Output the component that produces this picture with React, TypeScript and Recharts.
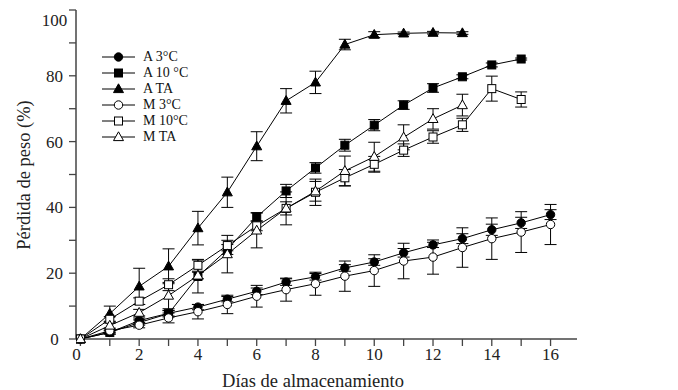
import React from 'react';
import { LineChart, Line, XAxis, YAxis, ErrorBar, Legend, Label } from 'recharts';

// storage days
const days = [0, 1, 2, 3, 4, 5, 6, 7, 8, 9, 10, 11, 12, 13, 14, 15, 16];

// weight loss (%) and error, per treatment
const a3 = [0, 2.0, 5.6, 7.8, 9.7, 12.1, 14.5, 17.3, 18.9, 21.6, 23.4, 26.2, 28.6, 30.5, 33.2, 35.3, 37.8];
const a3Err = [0, 0.5, 0.8, 0.8, 0.8, 0.8, 1.0, 1.0, 1.0, 1.0, 1.0, 1.3, 0.8, 1.5, 1.7, 1.7, 1.5];
const a10 = [0, 2.0, 5.0, 7.7, 19.0, 27.2, 37.1, 45.0, 52.0, 58.9, 65.0, 71.1, 76.3, 79.7, 83.3, 85.1, null];
const a10Err = [0, 0.5, 0.8, 1.0, 5.0, 1.5, 1.3, 2.0, 1.6, 1.8, 1.7, 1.3, 1.3, 0.6, 0.6, 0.3, null];
const aTa = [0, 7.7, 16.0, 22.1, 33.7, 44.6, 58.6, 72.4, 78.0, 89.5, 92.5, 92.9, 93.1, 93.0, null, null, null];
const aTaErr = [0, 2.3, 5.5, 5.3, 5.1, 4.6, 4.4, 3.7, 3.4, 1.6, 0.9, 0.4, 0.4, 0.4, null, null, null];
const m3 = [0, 2.5, 4.2, 6.4, 8.3, 10.5, 13.0, 15.0, 16.8, 19.1, 20.8, 23.7, 24.9, 27.8, 30.5, 32.5, 34.8];
const m3Err = [0, 0.5, 0.8, 1.5, 2.2, 2.8, 3.3, 3.5, 3.5, 4.6, 4.8, 5.4, 5.2, 6.0, 6.3, 6.2, 6.1];
const m10 = [0, 6.0, 11.5, 16.5, 22.4, 28.4, 34.4, 39.7, 44.6, 49.0, 53.1, 57.4, 61.4, 65.1, 76.1, 72.8, null];
const m10Err = [0, 0.8, 1.0, 1.8, 1.8, 1.6, 1.5, 2.0, 4.0, 2.5, 2.4, 1.9, 1.9, 2.0, 3.8, 2.3, null];
const mTa = [0, 4.1, 8.0, 13.2, 19.3, 25.8, 33.0, 39.7, 44.9, 51.1, 55.4, 61.3, 66.9, 71.1, null, null, null];
const mTaErr = [0, 0.8, 1.0, 4.0, 1.0, 5.7, 5.3, 5.0, 3.0, 4.5, 4.4, 3.8, 3.1, 3.3, null, null, null];

const xTicks = days;
const yTicks = [0, 10, 20, 30, 40, 50, 60, 70, 80, 90, 100];

const series = [
  { key: 'a3', name: 'A 3°C', shape: 'circle', filled: true, values: a3, errors: a3Err },
  { key: 'a10', name: 'A 10 °C', shape: 'square', filled: true, values: a10, errors: a10Err },
  { key: 'aTa', name: 'A TA', shape: 'triangle', filled: true, values: aTa, errors: aTaErr },
  { key: 'm3', name: 'M 3°C', shape: 'circle', filled: false, values: m3, errors: m3Err },
  { key: 'm10', name: 'M 10°C', shape: 'square', filled: false, values: m10, errors: m10Err },
  { key: 'mTa', name: 'M TA', shape: 'triangle', filled: false, values: mTa, errors: mTaErr },
];

const data = days.map((day, i) => {
  const row: Record<string, number | null> = { day };
  series.forEach((s) => {
    row[s.key] = s.values[i];
    row[s.key + 'Err'] = s.errors[i];
  });
  return row;
});

const FONT = '"Liberation Serif", "Times New Roman", serif';

function Marker({ cx, cy, shape, filled }: { cx: number; cy: number; shape: string; filled: boolean }) {
  const fill = filled ? '#000' : '#fff';
  if (shape === 'circle') {
    return <circle cx={cx} cy={cy} r={4.2} fill={fill} stroke="#000" strokeWidth={1} />;
  }
  if (shape === 'square') {
    return <rect x={cx - 4} y={cy - 4} width={8} height={8} fill={fill} stroke="#000" strokeWidth={1} />;
  }
  return (
    <polygon
      points={`${cx},${cy - 5.2} ${cx + 5},${cy + 3.6} ${cx - 5},${cy + 3.6}`}
      fill={fill}
      stroke="#000"
      strokeWidth={1}
    />
  );
}

function renderXTick(props: any) {
  const { x, y, payload } = props;
  if (payload.value % 2 !== 0) return <g />;
  // the zero label sits at the start of the axis in the original
  const tx = payload.value === 0 ? x - 4 : x;
  return (
    <text x={tx} y={y + 12} textAnchor="middle" fontSize={17} fontFamily={FONT} fill="#222">
      {payload.value}
    </text>
  );
}

function renderYTick(props: any) {
  const { x, y, payload } = props;
  if (payload.value % 20 !== 0) return <g />;
  const ty = payload.value === 100 ? y + 10 : y;
  return (
    <text x={x - 12.5} y={ty + 6} textAnchor="middle" fontSize={17} fontFamily={FONT} fill="#222">
      {payload.value}
    </text>
  );
}

function renderLegend() {
  return (
    <div style={{ fontFamily: FONT, fontSize: 14, color: '#111' }}>
      {series.map((s) => (
        <div key={s.key} style={{ display: 'flex', alignItems: 'center', height: 16 }}>
          <svg width={41} height={16}>
            <line x1={0} y1={8} x2={33} y2={8} stroke="#000" strokeWidth={1} />
            <Marker cx={16.5} cy={8} shape={s.shape} filled={s.filled} />
          </svg>
          <span style={{ lineHeight: '16px' }}>{s.name}</span>
        </div>
      ))}
    </div>
  );
}

export default function App() {
  return (
    <div style={{ position: 'absolute', left: 0, top: 0, width: 678, height: 390, background: '#fff' }}>
      <LineChart width={678} height={390} data={data} margin={{ top: 10, right: 101, left: 0, bottom: 0 }}>
        <XAxis
          dataKey="day"
          type="number"
          domain={[-0.15, 16.9]}
          ticks={xTicks}
          interval={0}
          allowDataOverflow
          height={51}
          tickSize={7}
          tick={renderXTick}
          axisLine={{ stroke: '#444', strokeWidth: 1.5 }}
          tickLine={{ stroke: '#444', strokeWidth: 1.3 }}
        >
          <Label
            content={() => (
              <text x={313} y={387} textAnchor="middle" fontSize={18.5} fontFamily={FONT} fill="#222">
                Días de almacenamiento
              </text>
            )}
          />
        </XAxis>
        <YAxis
          type="number"
          domain={[0, 100]}
          ticks={yTicks}
          interval={0}
          width={76}
          tickSize={7}
          tick={renderYTick}
          axisLine={{ stroke: '#444', strokeWidth: 1.5 }}
          tickLine={{ stroke: '#444', strokeWidth: 1.3 }}
        >
          <Label
            content={() => (
              <text
                x={30}
                y={175}
                transform="rotate(-90 30 175)"
                textAnchor="middle"
                fontSize={18.5}
                fontFamily={FONT}
                fill="#222"
              >
                Pérdida de peso (%)
              </text>
            )}
          />
        </YAxis>
        <Legend
          layout="vertical"
          align="center"
          verticalAlign="middle"
          content={renderLegend}
          wrapperStyle={{ left: 102, top: 49, width: 130 }}
        />
        {series.map((s) => (
          <Line
            key={s.key}
            dataKey={s.key}
            name={s.name}
            stroke="#000"
            strokeWidth={1}
            isAnimationActive={false}
            dot={(p: any) =>
              p.cx == null || p.cy == null || p.value == null ? (
                <g key={p.index} />
              ) : (
                <Marker key={p.index} cx={p.cx} cy={p.cy} shape={s.shape} filled={s.filled} />
              )
            }
            activeDot={false}
          >
            <ErrorBar
              dataKey={s.key + 'Err'}
              width={6}
              stroke="#000"
              strokeWidth={1}
              direction="y"
              isAnimationActive={false}
            />
          </Line>
        ))}
      </LineChart>
    </div>
  );
}
